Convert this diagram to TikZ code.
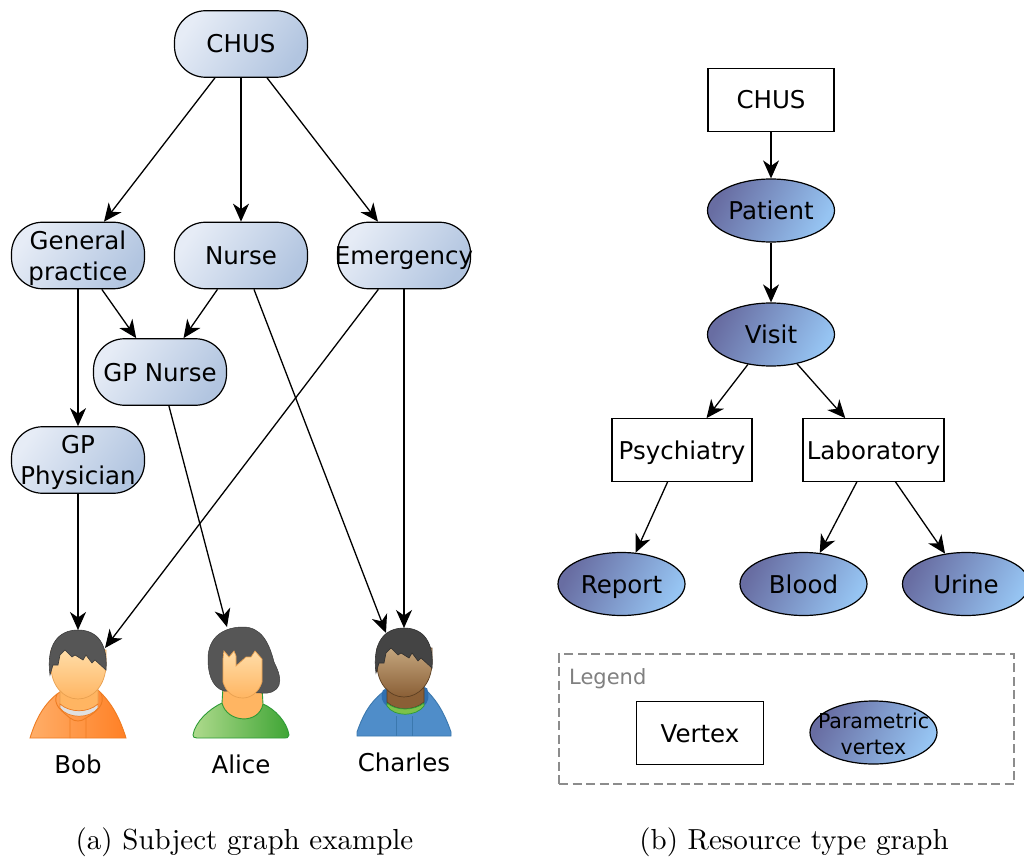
\documentclass[tikz,border=0pt]{standalone}
\usepackage{fontspec}
\usepackage{graphicx}
\setsansfont{DejaVu Sans}
\usetikzlibrary{arrows.meta,shapes.geometric}
\definecolor{softA}{HTML}{E6ECF6}
\definecolor{softB}{HTML}{B2C5E0}
\definecolor{parA}{HTML}{686DA2}
\definecolor{parB}{HTML}{96C4F2}
\definecolor{hairC}{HTML}{565656}
\definecolor{hairD}{HTML}{444444}
\definecolor{orgL}{HTML}{FFAE68}
\definecolor{orgR}{HTML}{FF8025}
\definecolor{orgE}{HTML}{EE7C22}
\definecolor{skinT}{HTML}{FFDDA8}
\definecolor{skinB}{HTML}{FFB562}
\definecolor{skinE}{HTML}{E8A050}
\definecolor{grnL}{HTML}{AEDA8C}
\definecolor{grnR}{HTML}{3FA535}
\definecolor{grnE}{HTML}{2E9B36}
\definecolor{bluF}{HTML}{4F8DC9}
\definecolor{bluE}{HTML}{3B78AE}
\definecolor{bluD}{HTML}{2F6FB0}
\definecolor{brnT}{HTML}{C4A67E}
\definecolor{brnB}{HTML}{8A5F36}
\definecolor{brnE}{HTML}{5C3F22}
\definecolor{collG}{HTML}{7CC24A}
\tikzset{
  softbox/.style={draw=black,line width=1.2pt,rectangle,rounded corners=31pt,minimum width=133pt,minimum height=66.5pt,inner sep=0pt,top color=softA,bottom color=softB,shading angle=55,font=\sffamily\fontsize{24.5}{31}\selectfont},
  plainbox/.style={draw=black,line width=1.2pt,rectangle,minimum height=62.5pt,inner sep=0pt,fill=white,font=\sffamily\fontsize{24.5}{31}\selectfont},
  parell/.style={draw=black,line width=1.2pt,ellipse,minimum width=127pt,minimum height=63pt,inner sep=0pt,top color=parA,bottom color=parB,shading angle=62,font=\sffamily\fontsize{24.5}{31}\selectfont},
  oneline/.style={text height=20pt,text depth=2pt},
  twolines/.style={align=center},
  linkedge/.style={draw=black,line width=1.3pt,-{Stealth[length=18pt,width=16pt,inset=5.5pt]}},
  persname/.style={inner sep=0pt,font=\sffamily\fontsize{24.5}{31}\selectfont},
  capt/.style={inner sep=0pt,font=\fontsize{10}{12}\selectfont},
  legendbox/.style={draw=black!45,line width=1.2pt,dash pattern=on 9pt off 4.5pt,rectangle,inner sep=0pt},
  legendtitle/.style={inner sep=0pt,text=black!50,anchor=west,text height=17pt,text depth=2pt,font=\sffamily\fontsize{21}{26}\selectfont}
}
\newcommand{\manhead}[4]{%
  % face and hair shared by the two male figures
  \path[top color=#1,bottom color=#2,draw=#3,line width=.7pt] (-27,36) .. controls (-27,55) and (-15,69) .. (0,69) .. controls (15,69) and (28,55) .. (28,34) -- (28,20) -- (-27,20) -- cycle;
  \path[fill=#4,draw=#4!70!black,line width=.6pt] (-28,45) .. controls (-32,15) and (-20,0) .. (0,0) .. controls (20,0) and (30,15) .. (28,40) -- (17,30) -- (14,33) -- (8,25) -- (5,30) -- (-3,25) -- (-6,27) -- (-13,20) -- (-18,25) -- (-20,35) -- (-25,35) -- cycle;
}
\begin{document}
\begin{tikzpicture}[x=1pt,y=-1pt]
\clip (0,0) rectangle (1024,858);
\fill[white] (0,0) rectangle (1024,858);

% --- figures
\begin{scope}[shift={(78,630)}]
  \path[left color=orgL,right color=orgR,draw=orgE,line width=.9pt]
    (-48,108) .. controls (-43,92) and (-36,76) .. (-21,64) -- (-18,62) .. controls (-5,72) and (5,72) .. (20,60) -- (23,63) .. controls (36,76) and (43,92) .. (48,108) -- cycle;
  \path[fill=skinB,draw=skinE,line width=.7pt] (-18,60) -- (-18,74) .. controls (-8,83) and (10,83) .. (20,74) -- (20,60) -- cycle;
  \path[fill=black!12,draw=orgE,line width=.7pt] (-18,74) .. controls (-8,83) and (10,83) .. (20,74) -- (20,78) .. controls (12,89) and (-10,89) .. (-18,78) -- cycle;
  \draw[orgE,line width=.9pt] (-21,64) .. controls (-26,75) and (-15,82) .. (-8,88) -- (-8,108) (23,63) .. controls (28,75) and (18,82) .. (8,88) -- (8,108) (-8,88) .. controls (-3,92) and (3,92) .. (8,88);
  \manhead{skinT}{skinB}{skinE}{hairC}
\end{scope}

\begin{scope}[shift={(241,627)}]
  \path[left color=grnL,right color=grnR,draw=grnE,line width=.9pt]
    (-48,108) .. controls (-46,95) and (-32,82) .. (-19,76) -- (22,77) .. controls (34,82) and (46,95) .. (48,108) .. controls (47,111) and (46,111) .. (44,111) -- (-44,111) .. controls (-47,111) and (-48,110) .. (-48,108) -- cycle;
  \path[fill=skinB,draw=grnE,line width=.9pt] (-19,76) .. controls (-14,96) and (18,98) .. (22,77) -- (21,60) -- (-18,60) -- cycle;
  \path[fill=hairC,draw=hairC!70!black,line width=.5pt] (-17,64) .. controls (-30,60) and (-33,45) .. (-33,32) .. controls (-33,8) and (-15,0) .. (2,0) .. controls (20,0) and (28,15) .. (33,35) .. controls (38,45) and (40,52) .. (38,58) .. controls (35,65) and (28,67) .. (20,66) -- cycle;
  \path[top color=skinT,bottom color=skinB,draw=skinE,line width=.7pt] (-18,32) -- (-17,24) -- (-12,30) -- (-7,24) -- (-5,29) -- (-5,39) -- (5,30) -- (10,30) -- (14,24) -- (21,32) -- (21,55) .. controls (18,65) and (10,71) .. (2,71) .. controls (-8,71) and (-15,65) .. (-18,55) -- cycle;
\end{scope}

\begin{scope}[shift={(404,628)}]
  \path[fill=bluF,draw=bluE,line width=.9pt]
    (-47,108) -- (-47,104) .. controls (-42,90) and (-36,76) .. (-21,64) -- (-18,60) .. controls (-5,72) and (5,72) .. (20,58) -- (23,63) .. controls (36,76) and (42,90) .. (47,104) -- (47,108) -- cycle;
  \path[fill=bluD] (-21,62) .. controls (-24,70) and (-22,74) .. (-17,78) .. controls (-8,86) and (12,86) .. (20,78) .. controls (24,74) and (26,70) .. (23,60) -- cycle;
  \path[fill=brnB,draw=brnE,line width=.7pt] (-17,60) -- (-17,74) .. controls (-8,83) and (10,83) .. (20,74) -- (20,60) -- cycle;
  \path[fill=collG,draw=grnE,line width=.7pt] (-17,75) .. controls (-8,83) and (10,83) .. (20,75) -- (20,78) .. controls (12,89) and (-10,89) .. (-17,78) -- cycle;
  \draw[bluE,line width=.8pt] (-8,88) -- (-8,108) (8,88) -- (8,108);
  \manhead{brnT}{brnB}{brnE}{hairD}
\end{scope}

% --- left graph nodes
\node[softbox,oneline] (chusa) at (241,44) {CHUS};
\node[softbox,twolines] (general) at (78,255.5) {\rule{0pt}{24.5pt}General\\practice};
\node[softbox,oneline] (nurse) at (241,255.5) {Nurse};
\node[softbox,oneline] (emergency) at (404,255.5) {\makebox[0pt][c]{Emergency}};
\node[softbox,oneline] (gpnurse) at (160,372) {GP Nurse};
\node[softbox,twolines] (gpphys) at (78,460) {\rule{0pt}{23pt}GP\\Physician};

\coordinate (bobtop) at (78,630);
\coordinate (bobside) at (105,648);
\coordinate (alicetop) at (227,627);
\coordinate (charlesside) at (386,633);
\coordinate (charlestop) at (404,628);

\node[persname] (bobname) at (78,764) {Bob};
\node[persname] (alicename) at (241,764) {Alice};
\node[persname] (charlesname) at (404,762) {Charles};

\draw[linkedge] (chusa) -- (general);
\draw[linkedge] (chusa) -- (nurse);
\draw[linkedge] (chusa) -- (emergency);
\draw[linkedge] (general) -- (gpnurse);
\draw[linkedge] (nurse) -- (gpnurse);
\draw[linkedge] (general) -- (gpphys);
\draw[linkedge] (gpphys) -- (bobtop);
\draw[linkedge] (emergency) -- (bobside);
\draw[linkedge] (gpnurse) -- (alicetop);
\draw[linkedge] (nurse) -- (charlesside);
\draw[linkedge] (emergency) -- (charlestop);

% --- right graph nodes
\node[plainbox,oneline,minimum width=126pt] (chusb) at (771,100) {CHUS};
\node[parell,oneline] (patient) at (771,210.5) {Patient};
\node[parell,oneline] (visit) at (771,334.5) {Visit};
\node[plainbox,oneline,minimum width=140pt] (psych) at (682,450) {Psychiatry};
\node[plainbox,oneline,minimum width=141pt] (lab) at (873.5,450) {Laboratory};
\node[parell,oneline] (report) at (621.5,584) {Report};
\node[parell,oneline] (blood) at (803.5,584) {Blood};
\node[parell,oneline] (urine) at (966,584) {Urine};

\draw[linkedge] (chusb) -- (patient);
\draw[linkedge] (patient) -- (visit);
\draw[linkedge] (visit) -- (psych);
\draw[linkedge] (visit) -- (lab);
\draw[linkedge] (psych) -- (report);
\draw[linkedge] (lab) -- (blood);
\draw[linkedge] (lab) -- (urine);

% --- legend
\node[legendbox,minimum width=455pt,minimum height=130pt] (legend) at (786.5,719) {};
\node[legendtitle] (legendname) at (569,677) {Legend};
\node[plainbox,oneline,minimum width=127pt] (vertexkey) at (700,733) {Vertex};
\node[parell,twolines,font=\sffamily\fontsize{20.5}{25.5}\selectfont] (paramkey) at (873.5,732.5) {\rule{0pt}{18pt}\makebox[0pt][c]{Parametric}\\\makebox[0pt][c]{vertex}};

% --- captions
\node[capt] (capa) at (244.5,842) {\scalebox{2.9}{(a) Subject graph example}};
\node[capt] (capb) at (794,842) {\scalebox{2.9}{(b) Resource type graph}};
\end{tikzpicture}
\end{document}
